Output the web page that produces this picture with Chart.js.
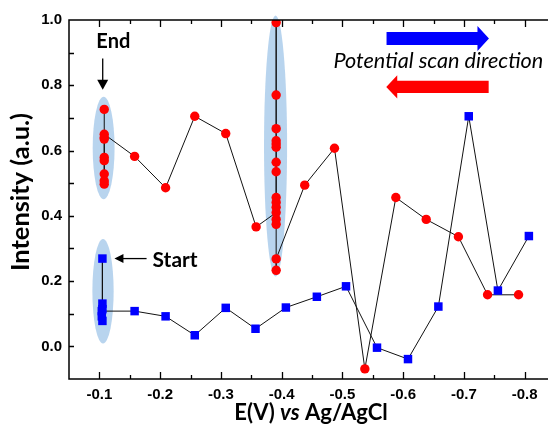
<!DOCTYPE html>
<html><head><meta charset="utf-8">
<script src="https://cdn.jsdelivr.net/npm/chart.js@4.4.0/dist/chart.umd.min.js"></script>
<style>
html,body{margin:0;padding:0;background:#fff;overflow:hidden;width:548px;height:433px}
#wrap{position:absolute;left:0;top:0;width:562px;height:433px}
</style>
</head><body><div id="wrap"><canvas id="c" width="562" height="433"></canvas></div>
<script>
// ---- data ----
const blueX = [-0.105, -0.105, -0.105, -0.105, -0.104, -0.104, -0.158, -0.209, -0.257, -0.308, -0.357, -0.407, -0.458, -0.506, -0.557, -0.608, -0.658, -0.708, -0.756, -0.807];
const blueY = [0.269, 0.131, 0.114, 0.078, 0.092, 0.108, 0.108, 0.092, 0.034, 0.118, 0.054, 0.119, 0.152, 0.184, -0.004, -0.039, 0.122, 0.705, 0.171, 0.338];

const redX = [-0.790, -0.739, -0.691, -0.638, -0.588, -0.537, -0.487, -0.438,
  -0.391, -0.391, -0.391, -0.391, -0.391, -0.391, -0.391, -0.391, -0.391, -0.391, -0.391, -0.391, -0.391, -0.391, -0.391, -0.391,
  -0.358, -0.308, -0.257, -0.209, -0.158,
  -0.108, -0.108, -0.108, -0.108, -0.108, -0.108, -0.108, -0.108, -0.108];
const redY = [0.158, 0.158, 0.336, 0.389, 0.456, -0.069, 0.607, 0.494,
  0.268, 0.233, 0.992, 0.770, 0.667, 0.630, 0.620, 0.610, 0.564, 0.535, 0.456, 0.374, 0.389, 0.426, 0.441, 0.410,
  0.366, 0.652, 0.705, 0.486, 0.582,
  0.650, 0.640, 0.635, 0.579, 0.569, 0.528, 0.507, 0.497, 0.726];

const xMin = -0.85, xMax = -0.05, xStep = 0.05;
const yMin = -0.1, yMax = 1.0, yStep = 0.1;
const xTitle = ['E(V) ', 'vs', ' Ag/AgCl'];
const yTitle = 'Intensity (a.u.)';
const legendText = 'Potential scan direction';

const toPts = (xs, ys) => xs.map((x, i) => ({x: x, y: ys[i]}));

function fitFont(ctx, text, target, style, family) {
  ctx.font = style + ' 20px ' + family;
  const w = ctx.measureText(text).width;
  return 20 * target / w;
}

const overlay = {
  id: 'overlay',
  beforeDatasetsDraw(chart) {
    const {ctx, scales: {x, y}} = chart;
    const ell = [
      {cx: -0.107, cy: 0.608, rx: 0.018, ry: 0.157},
      {cx: -0.106, cy: 0.169, rx: 0.0175, ry: 0.160},
      {cx: -0.390, cy: 0.614, rx: 0.019, ry: 0.400}
    ];
    ctx.save();
    ctx.fillStyle = 'rgba(160,197,232,0.75)';
    ell.forEach(e => {
      const px = x.getPixelForValue(e.cx), py = y.getPixelForValue(e.cy);
      const rx = Math.abs(x.getPixelForValue(e.cx + e.rx) - px);
      const ry = Math.abs(y.getPixelForValue(e.cy + e.ry) - py);
      ctx.beginPath();
      ctx.ellipse(px, py, rx, ry, 0, 0, Math.PI * 2);
      ctx.fill();
    });
    ctx.restore();
  },
  afterDraw(chart) {
    const {ctx, chartArea: a, scales: {x, y}} = chart;
    ctx.save();
    // frame
    ctx.strokeStyle = '#000';
    ctx.lineWidth = 1.5;
    ctx.strokeRect(a.left, a.top, a.right - a.left, a.bottom - a.top);
    ctx.lineWidth = 1.3;
    // x ticks (inward, bottom & top)
    x.ticks.forEach(t => {
      const v = Math.round(t.value * 100);
      if (v === Math.round(xMin * 100) || v === Math.round(xMax * 100)) return;
      const px = Math.round(x.getPixelForValue(t.value)) + 0.5;
      const len = (v % 10 === 0) ? 7 : 4;
      ctx.beginPath();
      ctx.moveTo(px, a.bottom); ctx.lineTo(px, a.bottom - len);
      ctx.moveTo(px, a.top); ctx.lineTo(px, a.top + len);
      ctx.stroke();
    });
    y.ticks.forEach(t => {
      const v = Math.round(t.value * 10);
      if (v === Math.round(yMin * 10) || v === Math.round(yMax * 10)) return;
      const py = Math.round(y.getPixelForValue(t.value)) + 0.5;
      const len = 5;
      ctx.beginPath();
      ctx.moveTo(a.left, py); ctx.lineTo(a.left + len, py);
      ctx.moveTo(a.right, py); ctx.lineTo(a.right - len, py);
      ctx.stroke();
    });

    const fam = 'Lato, "Open Sans", sans-serif';
    ctx.fillStyle = '#000';
    // y title
    let fs = fitFont(ctx, yTitle, 158, 'bold', fam);
    ctx.font = 'bold ' + fs.toFixed(2) + 'px ' + fam;
    ctx.save();
    ctx.translate(21, 192);
    ctx.rotate(-Math.PI / 2);
    ctx.textAlign = 'center'; ctx.textBaseline = 'middle';
    ctx.fillText(yTitle, 0, 0);
    ctx.restore();
    // x title
    const full = xTitle.join('');
    fs = fitFont(ctx, full, 155, 'bold', fam);
    const fB = 'bold ' + fs.toFixed(2) + 'px ' + fam;
    const fI = 'italic bold ' + fs.toFixed(2) + 'px ' + fam;
    const parts = [[xTitle[0], fB], [xTitle[1], fI], [xTitle[2], fB]];
    let tw = 0;
    parts.forEach(p => { ctx.font = p[1]; tw += ctx.measureText(p[0]).width; });
    let cx = 311 - tw / 2;
    ctx.textAlign = 'left'; ctx.textBaseline = 'alphabetic';
    parts.forEach(p => { ctx.font = p[1]; ctx.fillText(p[0], cx, 420); cx += ctx.measureText(p[0]).width; });

    // End / Start labels
    fs = fitFont(ctx, 'End', 34, 'bold', fam);
    ctx.font = 'bold ' + fs.toFixed(2) + 'px ' + fam;
    ctx.textAlign = 'center'; ctx.textBaseline = 'middle';
    ctx.fillText('End', x.getPixelForValue(-0.123), y.getPixelForValue(0.934));
    fs = fitFont(ctx, 'Start', 45, 'bold', fam);
    ctx.font = 'bold ' + fs.toFixed(2) + 'px ' + fam;
    ctx.textAlign = 'left';
    ctx.fillText('Start', x.getPixelForValue(-0.1876), y.getPixelForValue(0.263));

    // small arrows
    ctx.strokeStyle = '#000'; ctx.lineWidth = 1.3;
    let ax = x.getPixelForValue(-0.1055), ay1 = y.getPixelForValue(0.882), ay2 = y.getPixelForValue(0.786);
    ctx.beginPath(); ctx.moveTo(ax, ay1); ctx.lineTo(ax, ay2 - 9); ctx.stroke();
    ctx.beginPath(); ctx.moveTo(ax - 5.5, ay2 - 10); ctx.lineTo(ax + 5.5, ay2 - 10); ctx.lineTo(ax, ay2); ctx.closePath(); ctx.fill();
    let sy = y.getPixelForValue(0.269), sx1 = x.getPixelForValue(-0.1248), sx2 = x.getPixelForValue(-0.1777);
    ctx.beginPath(); ctx.moveTo(sx2, sy); ctx.lineTo(sx1 + 8, sy); ctx.stroke();
    ctx.beginPath(); ctx.moveTo(sx1 + 9, sy - 4.5); ctx.lineTo(sx1 + 9, sy + 4.5); ctx.lineTo(sx1, sy); ctx.closePath(); ctx.fill();

    // big direction arrows
    function bigArrow(xTail, xTip, yv, color, sh, hh, hl) {
      const t = x.getPixelForValue(xTail), p = x.getPixelForValue(xTip), c = y.getPixelForValue(yv);
      const dir = p > t ? 1 : -1;
      const hb = p - dir * hl;
      ctx.fillStyle = color;
      ctx.beginPath();
      ctx.moveTo(t, c - sh); ctx.lineTo(hb, c - sh); ctx.lineTo(hb, c - hh);
      ctx.lineTo(p, c); ctx.lineTo(hb, c + hh); ctx.lineTo(hb, c + sh); ctx.lineTo(t, c + sh);
      ctx.closePath(); ctx.fill();
    }
    bigArrow(-0.5727, -0.7413, 0.943, '#0000ff', 6.5, 12.5, 11.5);
    bigArrow(-0.7408, -0.5722, 0.795, '#ff0000', 6.2, 11.7, 11);

    // legend text
    ctx.fillStyle = '#000';
    fs = fitFont(ctx, legendText, 210, 'italic', fam);
    ctx.font = 'italic ' + fs.toFixed(2) + 'px ' + fam;
    ctx.textAlign = 'center'; ctx.textBaseline = 'middle';
    ctx.fillText(legendText, x.getPixelForValue(-0.658), y.getPixelForValue(0.875));
    ctx.restore();
  }
};

const tickFont = {family: '"Liberation Sans", Arial, sans-serif', size: 15, weight: 'bold'};

new Chart(document.getElementById('c'), {
  type: 'scatter',
  data: {
    datasets: [
      {
        label: 'forward',
        data: toPts(blueX, blueY),
        showLine: true,
        borderColor: '#111',
        borderWidth: 1,
        pointStyle: 'rect',
        pointRadius: 6,
        pointHoverRadius: 6,
        pointBackgroundColor: '#0000ff',
        pointBorderColor: '#0000ff',
        pointBorderWidth: 0
      },
      {
        label: 'reverse',
        data: toPts(redX, redY),
        showLine: true,
        borderColor: '#111',
        borderWidth: 1,
        pointStyle: 'circle',
        pointRadius: 4.7,
        pointHoverRadius: 4.7,
        pointBackgroundColor: '#ff0000',
        pointBorderColor: '#ff0000',
        pointBorderWidth: 0
      }
    ]
  },
  options: {
    responsive: false,
    animation: false,
    devicePixelRatio: 1,
    layout: {padding: {top: 20, right: 2, left: 0, bottom: 0}},
    plugins: {legend: {display: false}, tooltip: {enabled: false}},
    scales: {
      x: {
        type: 'linear', reverse: true, min: xMin, max: xMax,
        grid: {display: false, drawTicks: false},
        border: {display: false},
        afterFit: s => { s.height = 54; },
        ticks: {
          stepSize: xStep, autoSkip: false, maxRotation: 0, padding: 7,
          font: tickFont, color: '#000',
          callback: v => { const k = Math.round(v * 100); return (k % 10 === 0) ? (k / 100).toFixed(1) : ''; }
        }
      },
      y: {
        min: yMin, max: yMax,
        grid: {display: false, drawTicks: false},
        border: {display: false},
        afterFit: s => { s.width = 69; },
        ticks: {
          stepSize: yStep, autoSkip: false, padding: 7,
          font: tickFont, color: '#000',
          callback: v => { const k = Math.round(v * 10); return (k % 2 === 0 && k >= 0) ? (k / 10).toFixed(1) : ''; }
        }
      }
    }
  },
  plugins: [overlay]
});
</script>
</body></html>
